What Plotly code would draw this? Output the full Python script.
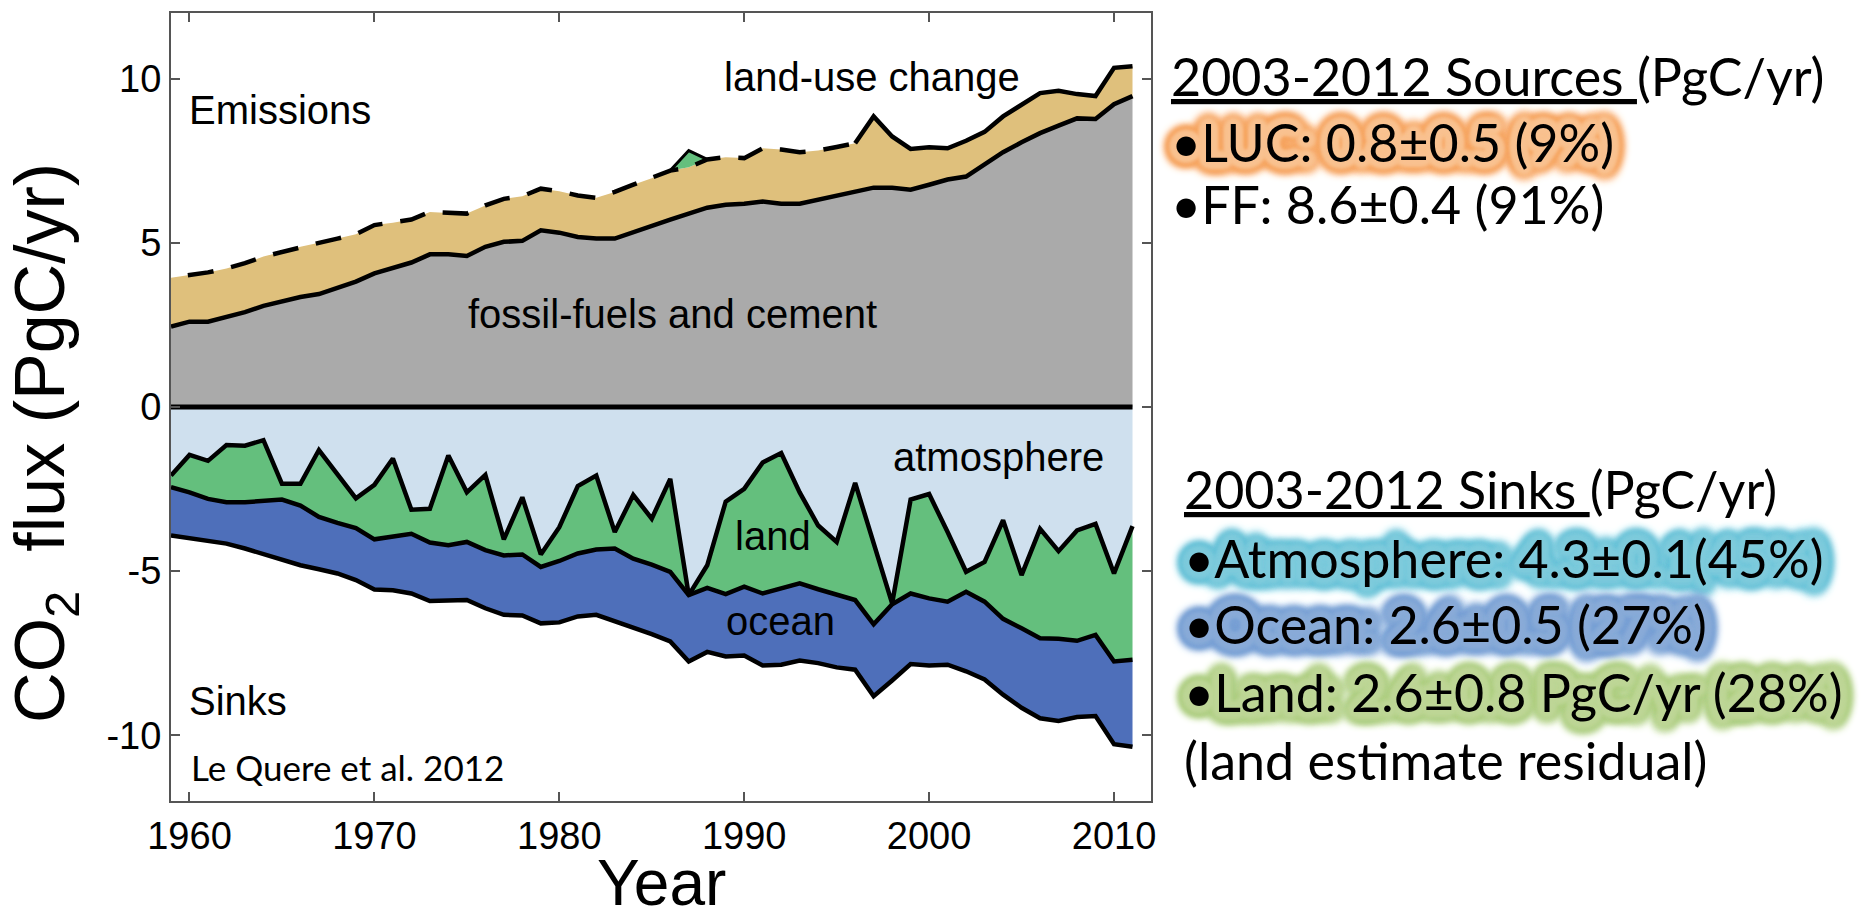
import math
import plotly.graph_objects as go

# ---------------- data (PgC/yr) ----------------
years = list(range(1959, 2012))

fossil = [2.45, 2.60, 2.60, 2.73, 2.89, 3.08, 3.21, 3.35, 3.44, 3.62,
          3.82, 4.07, 4.22, 4.40, 4.65, 4.65, 4.60, 4.88, 5.03, 5.06,
          5.38, 5.31, 5.18, 5.13, 5.13, 5.33, 5.54, 5.71, 5.89, 6.07,
          6.16, 6.19, 6.26, 6.19, 6.19, 6.32, 6.44, 6.57, 6.68, 6.68,
          6.62, 6.77, 6.93, 7.02, 7.37, 7.76, 8.06, 8.34, 8.57, 8.79,
          8.77, 9.22, 9.47]

land_use = [1.49, 1.42, 1.50, 1.49, 1.49, 1.50, 1.52, 1.53, 1.56, 1.51,
            1.44, 1.47, 1.39, 1.31, 1.29, 1.26, 1.29, 1.26, 1.31, 1.36,
            1.27, 1.26, 1.26, 1.24, 1.42, 1.44, 1.43, 1.49, 1.41, 1.47,
            1.45, 1.39, 1.62, 1.65, 1.57, 1.49, 1.48, 1.46, 2.17, 1.56,
            1.24, 1.14, 0.95, 1.09, 1.01, 1.09, 1.16, 1.22, 1.06, 0.74,
            0.70, 1.11, 0.91]

atmosphere = [2.09, 1.46, 1.64, 1.16, 1.18, 1.01, 2.34, 2.34, 1.31, 2.04,
              2.78, 2.37, 1.57, 3.13, 3.10, 1.48, 2.60, 2.07, 4.03, 2.75,
              4.49, 3.66, 2.41, 2.09, 3.81, 2.68, 3.40, 2.19, 5.73, 4.82,
              2.88, 2.49, 1.69, 1.40, 2.60, 3.61, 4.11, 2.31, 4.15, 5.98,
              2.82, 2.65, 3.81, 5.02, 4.72, 3.45, 5.12, 3.71, 4.39, 3.76,
              3.56, 5.07, 3.63]

land = [0.35, 1.14, 1.16, 1.74, 1.72, 1.84, 0.48, 0.66, 2.04, 1.49,
        0.91, 1.66, 2.39, 0.73, 1.03, 2.73, 1.51, 2.29, 0.49, 1.74,
        0.38, 1.03, 2.05, 2.25, 0.50, 1.94, 1.40, 2.83, -0.51, 0.69,
        2.82, 2.98, 3.99, 4.11, 2.77, 1.94, 1.62, 3.57, 2.47, 0.03,
        2.86, 3.18, 2.12, 0.61, 1.21, 3.00, 1.62, 3.33, 2.67, 3.36,
        3.38, 2.68, 4.07]

ocean = [1.47, 1.39, 1.26, 1.26, 1.41, 1.64, 1.85, 1.82, 1.59, 1.54,
         1.58, 1.53, 1.62, 1.82, 1.78, 1.69, 1.77, 1.77, 1.81, 1.86,
         1.72, 1.87, 1.92, 1.99, 2.21, 2.12, 2.12, 2.12, 2.02, 1.95,
         1.90, 2.10, 2.19, 2.34, 2.35, 2.25, 2.20, 2.12, 2.19, 2.32,
         2.15, 2.04, 1.92, 2.42, 2.37, 2.31, 2.42, 2.44, 2.50, 2.32,
         2.47, 2.52, 2.65]

x_ticks = [1960, 1970, 1980, 1990, 2000, 2010]
y_ticks = [-10, -5, 0, 5, 10]
y_tick_labels = ["-10", "-5", "0", "5", "10"]

# ---------------- stacking ----------------
total = [f + u for f, u in zip(fossil, land_use)]
land_source_top = [t + max(-l, 0) for t, l in zip(total, land)]
atm_b = [-a for a in atmosphere]
land_b = [-(a + max(l, 0)) for a, l in zip(atmosphere, land)]
ocean_b = [lb - o for lb, o in zip(land_b, ocean)]

# ---------------- style ----------------
GRAY = "#aaaaaa"
TAN = "#dfc07c"
GREEN = "#64bf7d"
LIGHTBLUE = "#cfe0ee"
BLUE = "#4e6fba"
AX = "#555555"
SANS = "Liberation Sans, Arial, sans-serif"
HUM = "Lato, Open Sans, sans-serif"
DASH_END = 1996

L, R, T, B = 171, 1151, 11, 801
X0, X1, Y0, Y1 = 1959, 2012, -12, 12


def dx(px):
    return X0 + (px - L) / (R - L) * (X1 - X0)


def dy(py):
    return Y1 - (py - T) / (B - T) * (Y1 - Y0)


def paper_x(px):
    return (px - L) / (R - L)


def paper_y(py):
    return (B - py) / (B - T)


fig = go.Figure()


def area(y, fill, color):
    fig.add_trace(go.Scatter(x=years, y=y, mode="none", fill=fill,
                             fillcolor=color, hoverinfo="skip"))


def line(x, y, width=4.5, dash="solid"):
    fig.add_trace(go.Scatter(x=x, y=y, mode="lines", hoverinfo="skip",
                             line=dict(color="black", width=width, dash=dash)))


area(fossil, "tozeroy", GRAY)
area(total, "tonexty", TAN)
area(land_source_top, "tonexty", GREEN)
area(atm_b, "tozeroy", LIGHTBLUE)
area(land_b, "tonexty", GREEN)
area(ocean_b, "tonexty", BLUE)

line(years, [0] * len(years), width=5)
line(years, fossil)
dx_years = [y for y in years if y <= DASH_END]
line(dx_years, total[:len(dx_years)], dash="0px,17px,26px,1px")
sx = [y for y in years if y >= DASH_END]
line(sx, total[len(years) - len(sx):])
# outline of land-source wedge on top
src_idx = [i for i, l in enumerate(land) if l < 0]
for i in src_idx:
    idx = [j for j in (i - 1, i, i + 1) if 0 <= j < len(years)]
    line([years[j] for j in idx], [land_source_top[j] for j in idx], width=3)
line(years, atm_b)
line(years, land_b)
line(years, ocean_b)

# ---------------- annotations ----------------
ann = []


def label(text, x, y, xanchor="left", size=40, family=SANS):
    ann.append(dict(text=text, x=x, y=y, xref="x", yref="y", showarrow=False,
                    xanchor=xanchor, yanchor="middle",
                    font=dict(family=family, size=size, color="black")))


label("Emissions", dx(187), dy(108))
label("land-use change", dx(722), dy(75))
label("fossil-fuels and cement", dx(672), dy(313), xanchor="center")
label("atmosphere", dx(998), dy(456), xanchor="center")
label("land", dx(773), dy(535), xanchor="center")
label("ocean", dx(780), dy(621), xanchor="center")
label("Sinks", dx(187), dy(701))
label("Le Quere et al. 2012", dx(189), dy(767), size=35, family=HUM)


def glow(inner, outer):
    parts = []
    for rad, blur, c in ((3, 3, inner), (6, 4, inner), (9, 6, outer),
                         (11, 8, outer)):
        for k in range(12):
            a = 2 * math.pi * k / 12
            parts.append(f"{rad * math.cos(a):.1f}px {rad * math.sin(a):.1f}px "
                         f"{blur}px {c}")
    parts.append(f"0 0 16px {outer}")
    return ", ".join(parts)


def side(text, px, py, shadow=None, size=52):
    f = dict(family=HUM, size=size, color="black")
    if shadow:
        f["shadow"] = glow(*shadow)
    ann.append(dict(text=text, x=paper_x(px), y=paper_y(py), xref="paper",
                    yref="paper", showarrow=False, xanchor="left",
                    yanchor="middle", font=f))


side("<u>2003-2012 Sources\u00a0</u>(PgC/yr)", 1169, 74)
side("•LUC: 0.8±0.5 (9%)", 1169, 140, ("#f9c291", "#f6a562"))
side("•FF: 8.6±0.4 (91%)", 1169, 202)
side("<u>2003-2012 Sinks\u00a0</u>(PgC/yr)", 1182, 488)
side("•Atmosphere: 4.3±0.1(45%)", 1182, 557, ("#7fcbdc", "#6cc3d8"))
side("•Ocean: 2.6±0.5 (27%)", 1182, 624, ("#8aabd8", "#7aa1d5"))
side("•Land: 2.6±0.8 PgC/yr (28%)", 1182, 692, ("#bed697", "#b0cf85"))
side("(land estimate residual)", 1182, 760)

# axis titles
ann.append(dict(text="CO<sub>2</sub>\u00a0 flux (PgC/yr)", x=paper_x(45),
                y=paper_y(442), xref="paper", yref="paper", showarrow=False,
                textangle=-90, xanchor="center", yanchor="middle",
                font=dict(family=SANS, size=70, color="black")))
ann.append(dict(text="Year", x=0.5, y=paper_y(883), xref="paper",
                yref="paper", showarrow=False, xanchor="center",
                yanchor="middle",
                font=dict(family=SANS, size=64, color="black")))

axis_common = dict(showline=True, linecolor=AX, linewidth=2, mirror="ticks",
                   ticks="inside", ticklen=9, tickwidth=2, tickcolor=AX,
                   showgrid=False, zeroline=False,
                   tickfont=dict(family=SANS, size=38, color="black"))

fig.update_layout(
    width=1867, height=923,
    margin=dict(l=L, r=1867 - R, t=T, b=923 - B),
    plot_bgcolor="white", paper_bgcolor="white",
    showlegend=False,
    xaxis=dict(range=[X0, X1], tickmode="array", tickvals=x_ticks,
               **axis_common),
    yaxis=dict(range=[Y0, Y1], tickmode="array", tickvals=y_ticks,
               ticktext=y_tick_labels, **axis_common),
    annotations=ann,
)

fig.write_html("out.html",
               config={"displayModeBar": False},
               post_script="document.body.style.margin='0';"
                           "document.body.style.overflow='hidden';")
